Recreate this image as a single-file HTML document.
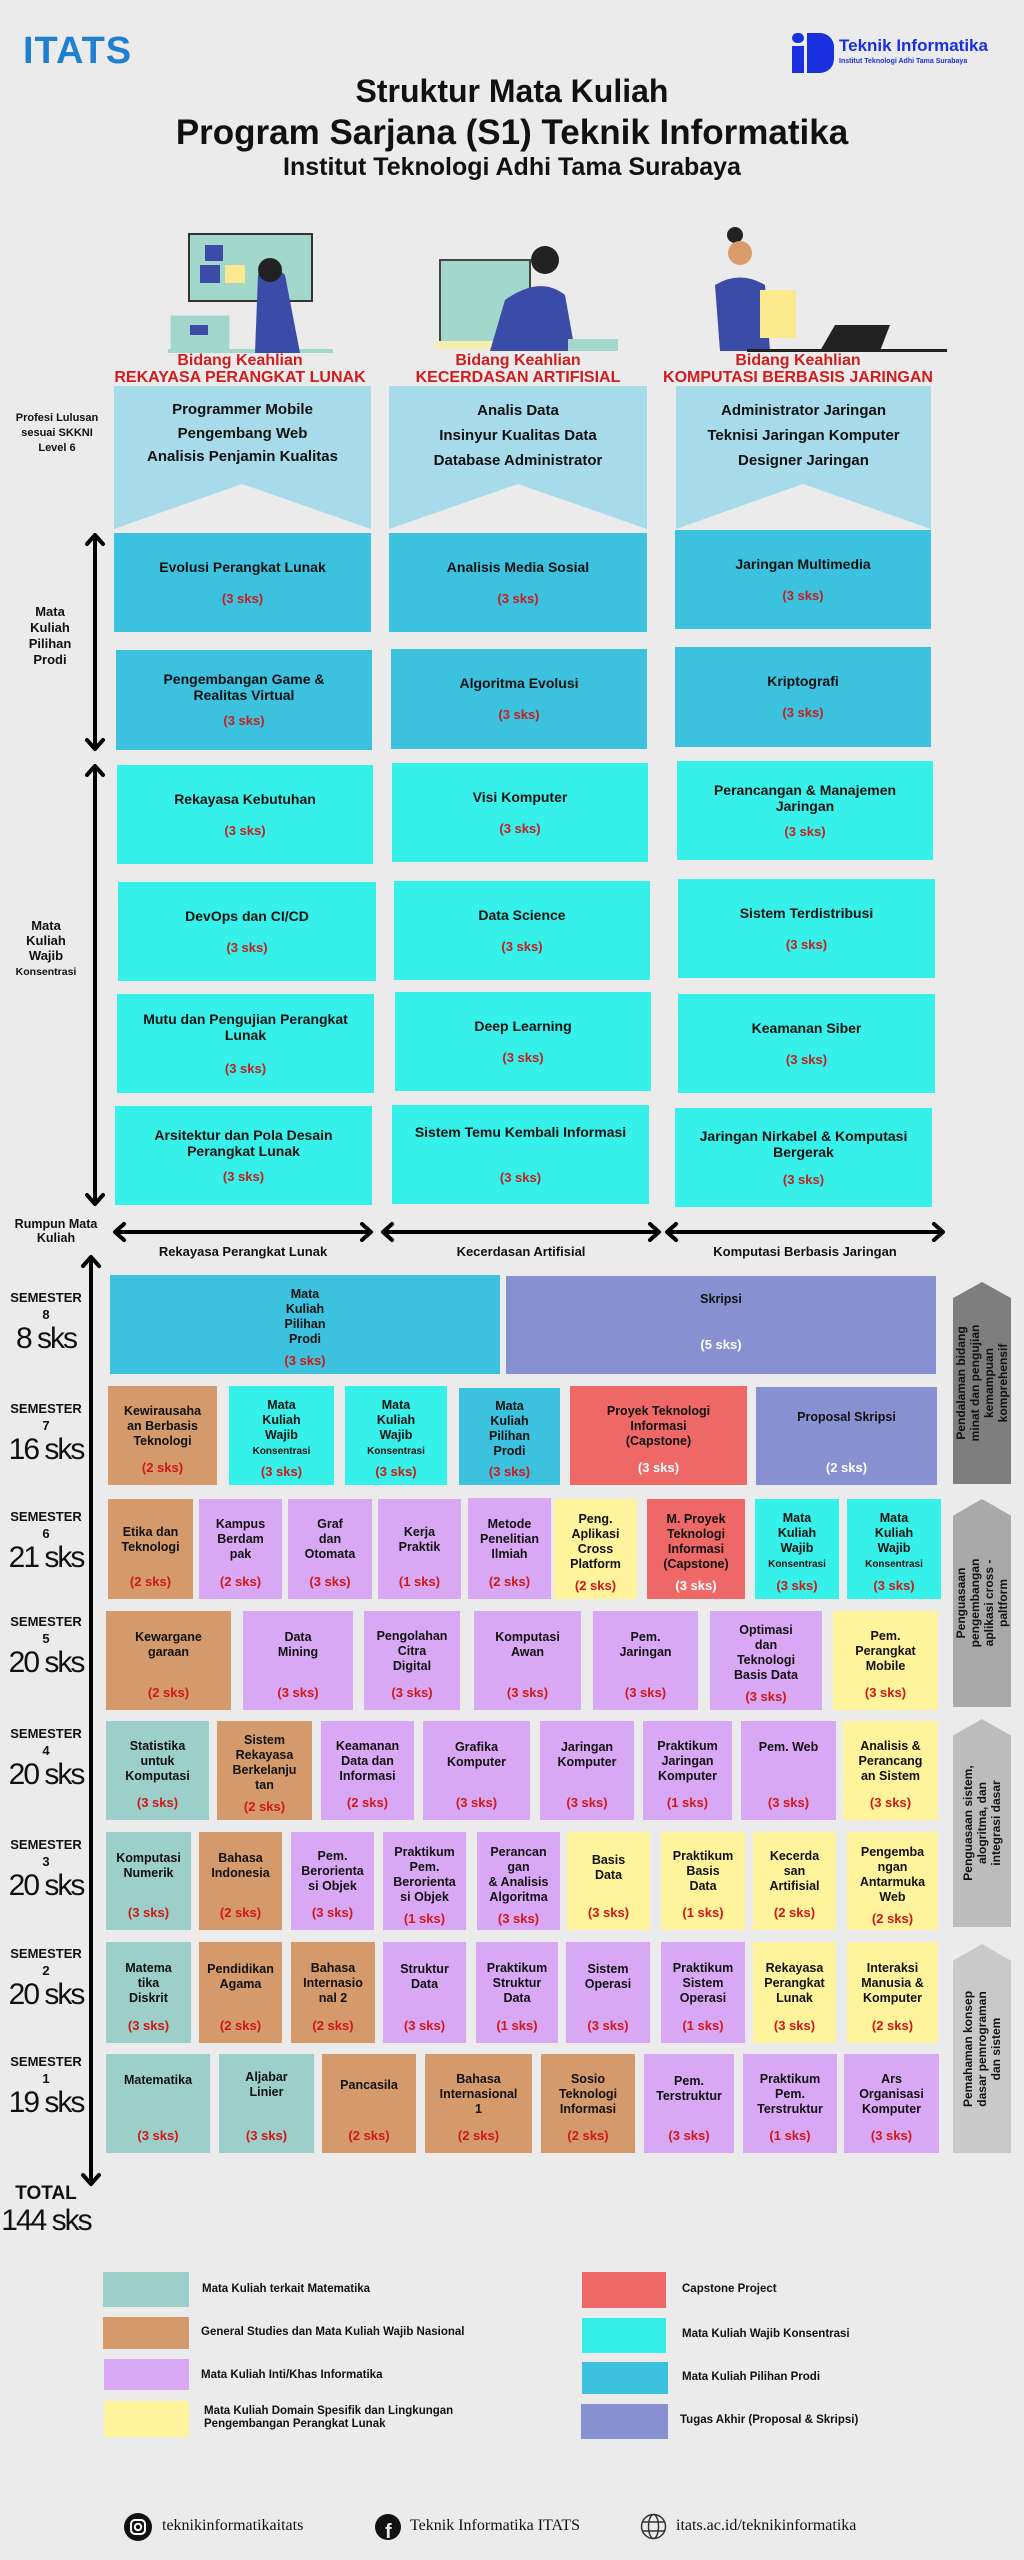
<!DOCTYPE html>
<html><head><meta charset="utf-8">
<style>
*{margin:0;padding:0;box-sizing:border-box}
body{width:1024px;height:2560px;background:#ebebeb;font-family:"Liberation Sans",sans-serif;position:relative;overflow:hidden;color:#111}
.a{position:absolute}
.t{position:absolute;text-align:center;font-weight:bold}
.c{position:absolute;display:flex;flex-direction:column;align-items:center;font-weight:bold;font-size:12.5px;line-height:15px;text-align:center;padding:6px 2px 0}
.c .n{flex:1;display:flex;align-items:center;justify-content:center;width:100%}
.c .n i{font-style:normal;display:block}
.c .s{color:#d01818;font-size:13px;margin-bottom:10px}
.c .w{color:#fff}
.ks{font-size:10px}
.k{position:absolute;display:flex;flex-direction:column;align-items:center;justify-content:center;font-weight:bold;font-size:14px;line-height:16px;text-align:center}
.k .s{color:#c42020;margin-top:16px;font-size:13px}
.m{background:#9ccfc9}.b{background:#d49a6c}.p{background:#d9a8f5}.y{background:#fff39b}.r{background:#ee6868}.cy{background:#35f1e9}.bl{background:#3cc1de}.v{background:#8791d2}
.sem{position:absolute;left:0;width:92px;text-align:center}
.sem .l1{font-weight:bold;font-size:13px;line-height:17px}
.sem .l2{font-size:30px;line-height:32px;letter-spacing:-2px}
.g{position:absolute;clip-path:polygon(0 8%,50% 0,100% 8%,100% 100%,0 100%)}
.g div{position:absolute;left:50%;top:50%;transform:translate(-50%,-50%) rotate(-90deg);white-space:nowrap;font-weight:bold;font-size:12px;line-height:14px;text-align:center}
.lg{position:absolute;font-weight:bold;font-size:11.5px;line-height:13px}
</style></head><body>

<!-- header -->
<div class="a" style="left:23px;top:30px;font-size:38px;font-weight:bold;color:#1f7fd1;letter-spacing:1px">ITATS</div>
<div class="a" style="left:792px;top:33px;width:12px;height:10px;background:#1a2fe0;border-radius:5px"></div>
<div class="a" style="left:792px;top:46px;width:12px;height:27px;background:#1a2fe0"></div>
<div class="a" style="left:807px;top:33px;width:27px;height:40px;background:#1a2fe0;border-radius:0 14px 14px 0"></div>
<div class="a" style="left:839px;top:36px;font-size:17px;font-weight:bold;color:#1a2fe0">Teknik Informatika</div>
<div class="a" style="left:839px;top:58px;font-size:7px;font-weight:bold;color:#1a2fe0">Institut Teknologi Adhi Tama Surabaya</div>

<div class="t" style="left:0;width:1024px;top:72px;font-size:32px;line-height:38px">Struktur Mata Kuliah</div>
<div class="t" style="left:0;width:1024px;top:113px;font-size:35px;line-height:40px">Program Sarjana (S1) Teknik Informatika</div>
<div class="t" style="left:0;width:1024px;top:153px;font-size:25px;line-height:28px">Institut Teknologi Adhi Tama Surabaya</div>

<!-- illustrations -->
<svg class="a" style="left:0;top:215px" width="1024" height="140">
 <rect x="189" y="19" width="123" height="67" fill="#a2d8cc" stroke="#333" stroke-width="2"/>
 <rect x="205" y="30" width="18" height="16" fill="#3b4ba8"/><rect x="200" y="50" width="20" height="18" fill="#3b4ba8"/><rect x="225" y="50" width="20" height="18" fill="#fbe98d"/>
 <rect x="170" y="100" width="60" height="35" fill="#a2d8cc" stroke="#eee"/><rect x="190" y="110" width="18" height="10" fill="#3b4ba8"/>
 <rect x="168" y="134" width="165" height="4" fill="#a2d8cc"/>
 <path d="M258 60 Q270 45 285 60 L300 138 L255 138 Z" fill="#3b4ba8"/><circle cx="270" cy="55" r="12" fill="#222"/>
 <rect x="440" y="45" width="90" height="85" fill="#a2d8cc" stroke="#444" stroke-width="2"/>
 <rect x="435" y="126" width="150" height="8" fill="#f4eeb0"/>
 <path d="M505 85 Q540 60 565 80 L575 136 L490 136 Z" fill="#3b4ba8"/><circle cx="545" cy="45" r="14" fill="#222"/><rect x="568" y="124" width="50" height="12" fill="#a2d8cc"/>
 <circle cx="735" cy="20" r="8" fill="#222"/><circle cx="740" cy="38" r="12" fill="#d99b6c"/>
 <path d="M715 70 Q740 55 765 70 L770 136 L720 136 Z" fill="#3b4ba8"/>
 <rect x="760" y="75" width="36" height="48" fill="#fbe98d"/>
 <path d="M835 110 L890 110 L880 136 L820 136 Z" fill="#222"/><rect x="747" y="134" width="200" height="3" fill="#222"/>
</svg>

<div class="t" style="left:108px;width:264px;top:352px;font-size:16px;line-height:17px;color:#d01d1d">Bidang Keahlian<br>REKAYASA PERANGKAT LUNAK</div>
<div class="t" style="left:389px;width:258px;top:352px;font-size:16px;line-height:17px;color:#d01d1d">Bidang Keahlian<br>KECERDASAN ARTIFISIAL</div>
<div class="t" style="left:650px;width:296px;top:352px;font-size:16px;line-height:17px;color:#d01d1d">Bidang Keahlian<br>KOMPUTASI BERBASIS JARINGAN</div>

<!-- pentagons -->
<svg class="a" style="left:0;top:386px" width="1024" height="146">
 <polygon points="114,0 371,0 371,143 242,98 114,143" fill="#a7dbea"/>
 <polygon points="389,0 647,0 647,143 518,98 389,143" fill="#a7dbea"/>
 <polygon points="676,0 931,0 931,143 803,98 676,143" fill="#a7dbea"/>
</svg>
<div class="a" style="left:0;top:411px;width:114px;text-align:center;font-size:11px;line-height:15px;font-weight:bold">Profesi Lulusan<br>sesuai SKKNI<br>Level 6</div>
<div class="t" style="left:114px;width:257px;top:398px;font-size:15px;line-height:23.5px">Programmer Mobile<br>Pengembang Web<br>Analisis Penjamin Kualitas</div>
<div class="t" style="left:389px;width:258px;top:398px;font-size:15px;line-height:25px">Analis Data<br>Insinyur Kualitas Data<br>Database Administrator</div>
<div class="t" style="left:676px;width:255px;top:398px;font-size:15px;line-height:25px">Administrator Jaringan<br>Teknisi Jaringan Komputer<br>Designer Jaringan</div>

<!-- pilihan -->
<div class="k bl" style="left:114px;top:533px;width:257px;height:99px">Evolusi Perangkat Lunak<div class="s">(3 sks)</div></div>
<div class="k bl" style="left:389px;top:533px;width:258px;height:99px">Analisis Media Sosial<div class="s">(3 sks)</div></div>
<div class="k bl" style="left:675px;top:530px;width:256px;height:99px">Jaringan Multimedia<div class="s">(3 sks)</div></div>
<div class="k bl" style="left:116px;top:650px;width:256px;height:100px">Pengembangan Game &amp;<br>Realitas Virtual<div class="s" style="margin-top:10px">(3 sks)</div></div>
<div class="k bl" style="left:391px;top:649px;width:256px;height:100px">Algoritma Evolusi<div class="s">(3 sks)</div></div>
<div class="k bl" style="left:675px;top:647px;width:256px;height:100px">Kriptografi<div class="s">(3 sks)</div></div>

<!-- wajib -->
<div class="k cy" style="left:117px;top:765px;width:256px;height:99px">Rekayasa Kebutuhan<div class="s">(3 sks)</div></div>
<div class="k cy" style="left:392px;top:763px;width:256px;height:99px">Visi Komputer<div class="s">(3 sks)</div></div>
<div class="k cy" style="left:677px;top:761px;width:256px;height:99px">Perancangan &amp; Manajemen<br>Jaringan<div class="s" style="margin-top:10px">(3 sks)</div></div>
<div class="k cy" style="left:118px;top:882px;width:258px;height:99px">DevOps dan CI/CD<div class="s">(3 sks)</div></div>
<div class="k cy" style="left:394px;top:881px;width:256px;height:99px">Data Science<div class="s">(3 sks)</div></div>
<div class="k cy" style="left:678px;top:879px;width:257px;height:99px">Sistem Terdistribusi<div class="s">(3 sks)</div></div>
<div class="k cy" style="left:117px;top:994px;width:257px;height:99px">Mutu dan Pengujian Perangkat<br>Lunak<div class="s" style="margin-top:18px">(3 sks)</div></div>
<div class="k cy" style="left:395px;top:992px;width:256px;height:99px">Deep Learning<div class="s">(3 sks)</div></div>
<div class="k cy" style="left:678px;top:994px;width:257px;height:99px">Keamanan Siber<div class="s">(3 sks)</div></div>
<div class="k cy" style="left:115px;top:1106px;width:257px;height:99px">Arsitektur dan Pola Desain<br>Perangkat Lunak<div class="s" style="margin-top:10px">(3 sks)</div></div>
<div class="k cy" style="left:392px;top:1105px;width:257px;height:99px">Sistem Temu Kembali Informasi<div class="s" style="margin-top:30px">(3 sks)</div></div>
<div class="k cy" style="left:675px;top:1108px;width:257px;height:99px">Jaringan Nirkabel &amp; Komputasi<br>Bergerak<div class="s" style="margin-top:12px">(3 sks)</div></div>

<div class="a" style="left:0;top:604px;width:100px;text-align:center;font-size:13px;line-height:16px;font-weight:bold">Mata<br>Kuliah<br>Pilihan<br>Prodi</div>
<div class="a" style="left:0;top:918px;width:92px;text-align:center;font-size:13px;line-height:15px;font-weight:bold">Mata<br>Kuliah<br>Wajib<br><span style="font-size:10.5px">Konsentrasi</span></div>
<div class="a" style="left:0;top:1217px;width:112px;text-align:center;font-size:12.5px;line-height:14px;font-weight:bold">Rumpun Mata<br>Kuliah</div>
<div class="t" style="left:114px;width:258px;top:1244px;font-size:13px">Rekayasa Perangkat Lunak</div>
<div class="t" style="left:382px;width:278px;top:1244px;font-size:13px">Kecerdasan Artifisial</div>
<div class="t" style="left:666px;width:278px;top:1244px;font-size:13px">Komputasi Berbasis Jaringan</div>

<!-- arrows -->
<svg class="a" style="left:0;top:0" width="1024" height="2560" fill="none" stroke="#000" stroke-width="4" stroke-linecap="round" stroke-linejoin="round">
 <path d="M95 536 V748 M87 544 L95 535 L103 544 M87 740 L95 749 L103 740"/>
 <path d="M95 767 V1203 M87 775 L95 766 L103 775 M87 1195 L95 1204 L103 1195"/>
 <path d="M116 1232 H370 M124 1224 L115 1232 L124 1240 M362 1224 L371 1232 L362 1240"/>
 <path d="M384 1232 H658 M392 1224 L383 1232 L392 1240 M650 1224 L659 1232 L650 1240"/>
 <path d="M668 1232 H942 M676 1224 L667 1232 L676 1240 M934 1224 L943 1232 L934 1240"/>
 <path d="M91 1258 V2183 M83 1266 L91 1257 L99 1266 M83 2175 L91 2184 L99 2175"/>
</svg>

<!-- semester labels -->
<div class="sem" style="top:1289px"><div class="l1">SEMESTER<br>8</div><div class="l2">8 sks</div></div>
<div class="sem" style="top:1400px"><div class="l1">SEMESTER<br>7</div><div class="l2">16 sks</div></div>
<div class="sem" style="top:1508px"><div class="l1">SEMESTER<br>6</div><div class="l2">21 sks</div></div>
<div class="sem" style="top:1613px"><div class="l1">SEMESTER<br>5</div><div class="l2">20 sks</div></div>
<div class="sem" style="top:1725px"><div class="l1">SEMESTER<br>4</div><div class="l2">20 sks</div></div>
<div class="sem" style="top:1836px"><div class="l1">SEMESTER<br>3</div><div class="l2">20 sks</div></div>
<div class="sem" style="top:1945px"><div class="l1">SEMESTER<br>2</div><div class="l2">20 sks</div></div>
<div class="sem" style="top:2053px"><div class="l1">SEMESTER<br>1</div><div class="l2">19 sks</div></div>
<div class="sem" style="top:2183px"><div class="l1" style="font-size:19px;line-height:22px">TOTAL</div><div class="l2">144 sks</div></div>

<!-- S8 -->
<div class="c bl" style="left:110px;top:1275px;width:390px;height:99px"><div class="n"><i>Mata<br>Kuliah<br>Pilihan<br>Prodi</i></div><div class="s" style="margin-bottom:6px">(3 sks)</div></div>
<div class="c v" style="left:506px;top:1276px;width:430px;height:98px"><div class="n" style="margin-top:-20px"><i>Skripsi</i></div><div class="s w" style="margin-bottom:22px">(5 sks)</div></div>
<!-- S7 -->
<div class="c b" style="left:108px;top:1386px;width:109px;height:99px"><div class="n"><i>Kewirausaha<br>an Berbasis<br>Teknologi</i></div><div class="s">(2 sks)</div></div>
<div class="c cy" style="left:229px;top:1386px;width:105px;height:99px"><div class="n"><i>Mata<br>Kuliah<br>Wajib<br><span class="ks">Konsentrasi</span></i></div><div class="s" style="margin-bottom:6px">(3 sks)</div></div>
<div class="c cy" style="left:345px;top:1386px;width:102px;height:99px"><div class="n"><i>Mata<br>Kuliah<br>Wajib<br><span class="ks">Konsentrasi</span></i></div><div class="s" style="margin-bottom:6px">(3 sks)</div></div>
<div class="c bl" style="left:459px;top:1388px;width:101px;height:97px"><div class="n"><i>Mata<br>Kuliah<br>Pilihan<br>Prodi</i></div><div class="s" style="margin-bottom:6px">(3 sks)</div></div>
<div class="c r" style="left:570px;top:1386px;width:177px;height:99px"><div class="n"><i>Proyek Teknologi<br>Informasi<br>(Capstone)</i></div><div class="s w">(3 sks)</div></div>
<div class="c v" style="left:756px;top:1387px;width:181px;height:98px"><div class="n" style="margin-top:-18px"><i>Proposal Skripsi</i></div><div class="s w">(2 sks)</div></div>
<!-- S6 -->
<div class="c b" style="left:108px;top:1499px;width:85px;height:100px"><div class="n"><i>Etika dan<br>Teknologi</i></div><div class="s">(2 sks)</div></div>
<div class="c p" style="left:199px;top:1499px;width:83px;height:100px"><div class="n"><i>Kampus<br>Berdam<br>pak</i></div><div class="s">(2 sks)</div></div>
<div class="c p" style="left:288px;top:1499px;width:84px;height:100px"><div class="n"><i>Graf<br>dan<br>Otomata</i></div><div class="s">(3 sks)</div></div>
<div class="c p" style="left:378px;top:1499px;width:83px;height:100px"><div class="n"><i>Kerja<br>Praktik</i></div><div class="s">(1 sks)</div></div>
<div class="c p" style="left:468px;top:1498px;width:83px;height:101px"><div class="n"><i>Metode<br>Penelitian<br>Ilmiah</i></div><div class="s">(2 sks)</div></div>
<div class="c y" style="left:554px;top:1499px;width:83px;height:100px"><div class="n"><i>Peng.<br>Aplikasi<br>Cross<br>Platform</i></div><div class="s" style="margin-bottom:6px">(2 sks)</div></div>
<div class="c r" style="left:647px;top:1499px;width:98px;height:100px"><div class="n"><i>M. Proyek<br>Teknologi<br>Informasi<br>(Capstone)</i></div><div class="s w" style="margin-bottom:6px">(3 sks)</div></div>
<div class="c cy" style="left:755px;top:1499px;width:84px;height:100px"><div class="n"><i>Mata<br>Kuliah<br>Wajib<br><span class="ks">Konsentrasi</span></i></div><div class="s" style="margin-bottom:6px">(3 sks)</div></div>
<div class="c cy" style="left:847px;top:1499px;width:94px;height:100px"><div class="n"><i>Mata<br>Kuliah<br>Wajib<br><span class="ks">Konsentrasi</span></i></div><div class="s" style="margin-bottom:6px">(3 sks)</div></div>
<!-- S5 -->
<div class="c b" style="left:106px;top:1611px;width:125px;height:99px"><div class="n" style="margin-top:-12px"><i>Kewargane<br>garaan</i></div><div class="s">(2 sks)</div></div>
<div class="c p" style="left:243px;top:1611px;width:110px;height:99px"><div class="n" style="margin-top:-12px"><i>Data<br>Mining</i></div><div class="s">(3 sks)</div></div>
<div class="c p" style="left:364px;top:1611px;width:96px;height:99px"><div class="n"><i>Pengolahan<br>Citra<br>Digital</i></div><div class="s">(3 sks)</div></div>
<div class="c p" style="left:474px;top:1611px;width:107px;height:99px"><div class="n" style="margin-top:-12px"><i>Komputasi<br>Awan</i></div><div class="s">(3 sks)</div></div>
<div class="c p" style="left:593px;top:1611px;width:105px;height:99px"><div class="n" style="margin-top:-12px"><i>Pem.<br>Jaringan</i></div><div class="s">(3 sks)</div></div>
<div class="c p" style="left:710px;top:1611px;width:112px;height:99px"><div class="n"><i>Optimasi<br>dan<br>Teknologi<br>Basis Data</i></div><div class="s" style="margin-bottom:6px">(3 sks)</div></div>
<div class="c y" style="left:833px;top:1611px;width:105px;height:99px"><div class="n"><i>Pem.<br>Perangkat<br>Mobile</i></div><div class="s">(3 sks)</div></div>
<!-- S4 -->
<div class="c m" style="left:106px;top:1721px;width:103px;height:99px"><div class="n"><i>Statistika<br>untuk<br>Komputasi</i></div><div class="s">(3 sks)</div></div>
<div class="c b" style="left:217px;top:1721px;width:95px;height:99px"><div class="n"><i>Sistem<br>Rekayasa<br>Berkelanju<br>tan</i></div><div class="s" style="margin-bottom:6px">(2 sks)</div></div>
<div class="c p" style="left:321px;top:1721px;width:93px;height:99px"><div class="n"><i>Keamanan<br>Data dan<br>Informasi</i></div><div class="s">(2 sks)</div></div>
<div class="c p" style="left:423px;top:1721px;width:107px;height:99px"><div class="n" style="margin-top:-12px"><i>Grafika<br>Komputer</i></div><div class="s">(3 sks)</div></div>
<div class="c p" style="left:540px;top:1721px;width:94px;height:99px"><div class="n" style="margin-top:-12px"><i>Jaringan<br>Komputer</i></div><div class="s">(3 sks)</div></div>
<div class="c p" style="left:643px;top:1721px;width:89px;height:99px"><div class="n"><i>Praktikum<br>Jaringan<br>Komputer</i></div><div class="s">(1 sks)</div></div>
<div class="c p" style="left:741px;top:1721px;width:95px;height:99px"><div class="n" style="margin-top:-28px"><i>Pem. Web</i></div><div class="s">(3 sks)</div></div>
<div class="c y" style="left:843px;top:1721px;width:95px;height:99px"><div class="n"><i>Analisis &amp;<br>Perancang<br>an Sistem</i></div><div class="s">(3 sks)</div></div>
<!-- S3 -->
<div class="c m" style="left:106px;top:1832px;width:85px;height:98px"><div class="n" style="margin-top:-12px"><i>Komputasi<br>Numerik</i></div><div class="s">(3 sks)</div></div>
<div class="c b" style="left:199px;top:1832px;width:83px;height:98px"><div class="n" style="margin-top:-12px"><i>Bahasa<br>Indonesia</i></div><div class="s">(2 sks)</div></div>
<div class="c p" style="left:291px;top:1832px;width:83px;height:98px"><div class="n"><i>Pem.<br>Berorienta<br>si Objek</i></div><div class="s">(3 sks)</div></div>
<div class="c p" style="left:383px;top:1832px;width:83px;height:98px"><div class="n"><i>Praktikum<br>Pem.<br>Berorienta<br>si Objek</i></div><div class="s" style="margin-bottom:4px">(1 sks)</div></div>
<div class="c p" style="left:477px;top:1832px;width:83px;height:98px"><div class="n"><i>Perancan<br>gan<br>&amp; Analisis<br>Algoritma</i></div><div class="s" style="margin-bottom:4px">(3 sks)</div></div>
<div class="c y" style="left:567px;top:1832px;width:83px;height:98px"><div class="n" style="margin-top:-8px"><i>Basis<br>Data</i></div><div class="s">(3 sks)</div></div>
<div class="c y" style="left:661px;top:1832px;width:84px;height:98px"><div class="n"><i>Praktikum<br>Basis<br>Data</i></div><div class="s">(1 sks)</div></div>
<div class="c y" style="left:753px;top:1832px;width:83px;height:98px"><div class="n"><i>Kecerda<br>san<br>Artifisial</i></div><div class="s">(2 sks)</div></div>
<div class="c y" style="left:847px;top:1832px;width:91px;height:98px"><div class="n"><i>Pengemba<br>ngan<br>Antarmuka<br>Web</i></div><div class="s" style="margin-bottom:4px">(2 sks)</div></div>
<!-- S2 -->
<div class="c m" style="left:106px;top:1942px;width:85px;height:101px"><div class="n"><i>Matema<br>tika<br>Diskrit</i></div><div class="s">(3 sks)</div></div>
<div class="c b" style="left:199px;top:1942px;width:83px;height:101px"><div class="n" style="margin-top:-12px"><i>Pendidikan<br>Agama</i></div><div class="s">(2 sks)</div></div>
<div class="c b" style="left:291px;top:1942px;width:84px;height:101px"><div class="n"><i>Bahasa<br>Internasio<br>nal 2</i></div><div class="s">(2 sks)</div></div>
<div class="c p" style="left:383px;top:1942px;width:83px;height:101px"><div class="n" style="margin-top:-12px"><i>Struktur<br>Data</i></div><div class="s">(3 sks)</div></div>
<div class="c p" style="left:476px;top:1942px;width:82px;height:101px"><div class="n"><i>Praktikum<br>Struktur<br>Data</i></div><div class="s">(1 sks)</div></div>
<div class="c p" style="left:566px;top:1942px;width:84px;height:101px"><div class="n" style="margin-top:-12px"><i>Sistem<br>Operasi</i></div><div class="s">(3 sks)</div></div>
<div class="c p" style="left:661px;top:1942px;width:84px;height:101px"><div class="n"><i>Praktikum<br>Sistem<br>Operasi</i></div><div class="s">(1 sks)</div></div>
<div class="c y" style="left:753px;top:1942px;width:83px;height:101px"><div class="n"><i>Rekayasa<br>Perangkat<br>Lunak</i></div><div class="s">(3 sks)</div></div>
<div class="c y" style="left:847px;top:1942px;width:91px;height:101px"><div class="n"><i>Interaksi<br>Manusia &amp;<br>Komputer</i></div><div class="s">(2 sks)</div></div>
<!-- S1 -->
<div class="c m" style="left:106px;top:2054px;width:104px;height:99px"><div class="n" style="margin-top:-28px"><i>Matematika</i></div><div class="s">(3 sks)</div></div>
<div class="c m" style="left:219px;top:2054px;width:95px;height:99px"><div class="n" style="margin-top:-18px"><i>Aljabar<br>Linier</i></div><div class="s">(3 sks)</div></div>
<div class="c b" style="left:322px;top:2054px;width:94px;height:99px"><div class="n" style="margin-top:-18px"><i>Pancasila</i></div><div class="s">(2 sks)</div></div>
<div class="c b" style="left:425px;top:2054px;width:107px;height:99px"><div class="n"><i>Bahasa<br>Internasional<br>1</i></div><div class="s">(2 sks)</div></div>
<div class="c b" style="left:541px;top:2054px;width:94px;height:99px"><div class="n"><i>Sosio<br>Teknologi<br>Informasi</i></div><div class="s">(2 sks)</div></div>
<div class="c p" style="left:644px;top:2054px;width:90px;height:99px"><div class="n" style="margin-top:-10px"><i>Pem.<br>Terstruktur</i></div><div class="s">(3 sks)</div></div>
<div class="c p" style="left:743px;top:2054px;width:94px;height:99px"><div class="n"><i>Praktikum<br>Pem.<br>Terstruktur</i></div><div class="s">(1 sks)</div></div>
<div class="c p" style="left:844px;top:2054px;width:95px;height:99px"><div class="n"><i>Ars<br>Organisasi<br>Komputer</i></div><div class="s">(3 sks)</div></div>

<!-- side gray arrows -->
<div class="g" style="left:953px;top:1282px;width:58px;height:202px;background:#7e7e7e"><div>Pendalaman bidang<br>minat dan pengujian<br>kemampuan<br>komprehensif</div></div>
<div class="g" style="left:953px;top:1499px;width:58px;height:208px;background:#a9a9a9"><div>Penguasaan<br>pengembangan<br>aplikasi cross -<br>paltform</div></div>
<div class="g" style="left:953px;top:1719px;width:58px;height:208px;background:#bcbcbc"><div>Penguasaan sistem,<br>alogritma, dan<br>integrasi dasar</div></div>
<div class="g" style="left:953px;top:1944px;width:58px;height:209px;background:#c9c9c9"><div>Pemahaman konsep<br>dasar pemrograman<br>dan sistem</div></div>

<!-- legend -->
<div class="a m" style="left:103px;top:2272px;width:86px;height:35px"></div>
<div class="a b" style="left:103px;top:2317px;width:86px;height:32px"></div>
<div class="a p" style="left:104px;top:2359px;width:85px;height:31px"></div>
<div class="a y" style="left:104px;top:2401px;width:85px;height:36px"></div>
<div class="a r" style="left:582px;top:2272px;width:84px;height:36px"></div>
<div class="a cy" style="left:582px;top:2318px;width:84px;height:35px"></div>
<div class="a bl" style="left:582px;top:2362px;width:86px;height:32px"></div>
<div class="a v" style="left:581px;top:2404px;width:87px;height:35px"></div>
<div class="lg" style="left:202px;top:2283px">Mata Kuliah terkait Matematika</div>
<div class="lg" style="left:201px;top:2326px">General Studies dan Mata Kuliah Wajib Nasional</div>
<div class="lg" style="left:201px;top:2369px">Mata Kuliah Inti/Khas Informatika</div>
<div class="lg" style="left:204px;top:2405px">Mata Kuliah Domain Spesifik dan Lingkungan<br>Pengembangan Perangkat Lunak</div>
<div class="lg" style="left:682px;top:2283px">Capstone Project</div>
<div class="lg" style="left:682px;top:2328px">Mata Kuliah Wajib Konsentrasi</div>
<div class="lg" style="left:682px;top:2371px">Mata Kuliah Pilihan Prodi</div>
<div class="lg" style="left:680px;top:2414px">Tugas Akhir (Proposal &amp; Skripsi)</div>

<!-- footer -->
<svg class="a" style="left:124px;top:2513px" width="28" height="28"><circle cx="14" cy="14" r="14" fill="#111"/><rect x="7" y="7" width="14" height="14" rx="4" fill="none" stroke="#fff" stroke-width="2"/><circle cx="14" cy="14" r="3.2" fill="none" stroke="#fff" stroke-width="2"/></svg>
<div class="a" style="left:162px;top:2517px;font-family:'Liberation Serif',serif;font-size:16px">teknikinformatikaitats</div>
<svg class="a" style="left:375px;top:2513px" width="26" height="28"><circle cx="13" cy="14" r="13" fill="#111"/><text x="10" y="25" font-family="Liberation Sans" font-weight="bold" font-size="20" fill="#ebebeb">f</text></svg>
<div class="a" style="left:410px;top:2517px;font-family:'Liberation Serif',serif;font-size:16px">Teknik Informatika ITATS</div>
<svg class="a" style="left:640px;top:2513px" width="27" height="27" fill="none" stroke="#333" stroke-width="1.5"><circle cx="13.5" cy="13.5" r="12"/><ellipse cx="13.5" cy="13.5" rx="5" ry="12"/><path d="M2 9 H25 M2 18 H25"/></svg>
<div class="a" style="left:676px;top:2517px;font-family:'Liberation Serif',serif;font-size:16px">itats.ac.id/teknikinformatika</div>
</body></html>
